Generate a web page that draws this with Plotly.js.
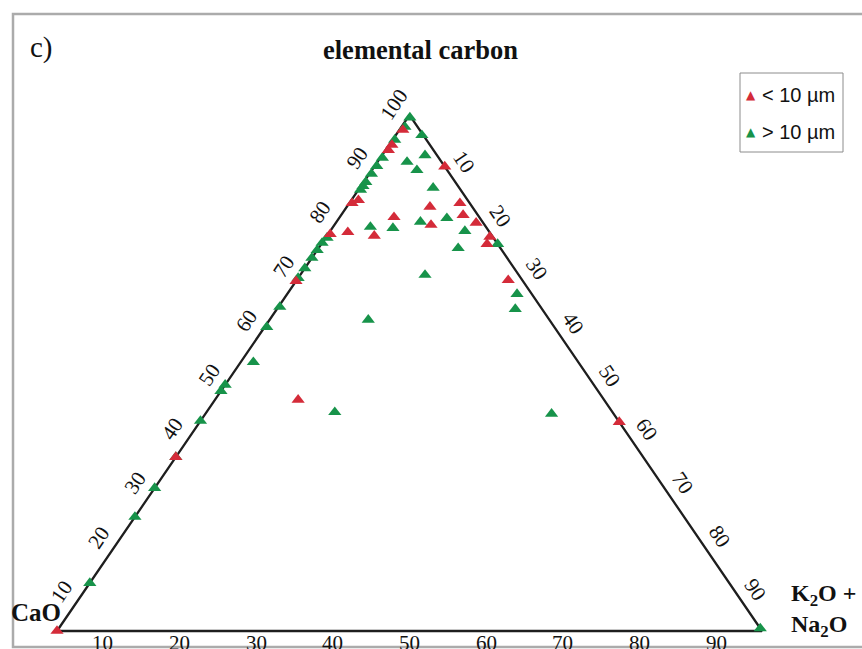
<!DOCTYPE html>
<html>
<head>
<meta charset="utf-8">
<script src="https://cdn.plot.ly/plotly-3.0.1.min.js"></script>
<style>
  html, body { margin: 0; padding: 0; background: #fff; }
  #chart { width: 862px; height: 649px; }
</style>
</head>
<body>
<div id="chart"></div>
<script>
// Particle composition (%): elemental carbon / CaO / K2O + Na2O
// Particles smaller than 10 µm
const fineEC  = [0, 97.1, 94.2, 93.2, 82.9, 83.5, 76.9, 77.3, 76.6, 80.2, 82.2, 78.7, 90.0, 82.9, 80.6, 79.1, 76.4, 75.0, 68.0, 40.5, 44.8, 67.8, 33.7];
const fineCaO = [100, 2.4, 5.4, 6.4, 16.7, 15.5, 22.8, 20.1, 16.7, 12.1, 6.0, 7.6, 0, 1.4, 2.1, 1.0, 0.4, 1.5, 2.0, 0, 43.4, 32.2, 66.3];
const fineAlk = [0, 0.5, 0.4, 0.4, 0.4, 1.0, 0.3, 2.6, 6.7, 7.7, 11.8, 13.7, 10.0, 15.7, 17.3, 19.9, 23.2, 23.5, 30.0, 59.5, 11.8, 0, 0];

// Particles larger than 10 µm
const coarseEC  = [0.5, 9.3, 22.1, 27.7, 33.7, 40.7, 46.5, 47.7, 52.1, 58.9, 62.8, 68.4, 70.3, 72.3, 73.8, 75.2, 76.2, 60.3, 42.4, 42.1, 78.3, 78.1, 79.3, 80.0, 69.0, 77.5, 74.2, 75.0, 65.3, 62.4, 85.9, 89.3, 90.9, 92.2, 96.1, 99.5, 97.7, 85.5, 86.2, 87.0, 88.6, 90.1, 91.7, 95.2];
const coarseCaO = [0, 90.7, 77.9, 72.3, 66.3, 59.3, 53.5, 52.3, 46.1, 40.8, 37.0, 31.6, 29.7, 27.7, 26.2, 24.8, 23.6, 25.7, 39.4, 8.8, 16.4, 13.3, 8.8, 4.7, 13.3, 3.4, 6.0, 0, 2.1, 3.8, 3.7, 4.3, 4.9, 1.7, 0.2, 0.2, 1.8, 14.2, 13.5, 12.7, 11.1, 9.6, 8.0, 4.5];
const coarseAlk = [99.5, 0, 0, 0, 0, 0, 0, 0, 1.8, 0.3, 0.2, 0, 0, 0, 0, 0, 0.2, 14.0, 18.2, 49.1, 5.3, 8.6, 11.9, 15.3, 17.7, 19.1, 19.8, 25.0, 32.6, 33.8, 10.4, 6.4, 4.2, 6.1, 3.7, 0.3, 0.5, 0.3, 0.3, 0.3, 0.3, 0.3, 0.3, 0.3];

const seriesNames = ['< 10 µm', '> 10 µm'];
const seriesColors = ['#d42b39', '#17934a'];

// Tick labels along the three sides
const leftTicks   = [10, 20, 30, 40, 50, 60, 70, 80, 90, 100];
const rightTicks  = [10, 20, 30, 40, 50, 60, 70, 80, 90];
const bottomTicks = [10, 20, 30, 40, 50, 60, 70, 80, 90];

// Ternary -> planar coordinates (CaO bottom-left, K2O+Na2O bottom-right, EC apex)
function tx(ec, cao, alk) { const s = ec + cao + alk; return (alk + ec / 2) / s * 100; }
function ty(ec, cao, alk) { const s = ec + cao + alk; return ec / s * 100; }
function project(ec, cao, alk) {
  return { x: ec.map((e, i) => tx(e, cao[i], alk[i])), y: ec.map((e, i) => ty(e, cao[i], alk[i])) };
}

// Corners of the diagram as compositions: CaO, K2O+Na2O, elemental carbon
const cornerEC  = [0, 0, 100, 0];
const cornerCaO = [100, 0, 0, 100];
const cornerAlk = [0, 100, 0, 0];
const frameXY = project(cornerEC, cornerCaO, cornerAlk);

const fineXY = project(fineEC, fineCaO, fineAlk);
const coarseXY = project(coarseEC, coarseCaO, coarseAlk);

const traces = [
  { type: 'scatter', mode: 'lines', x: frameXY.x, y: frameXY.y,
    line: { color: '#1e1e1e', width: 2.3 }, hoverinfo: 'skip', showlegend: false },
  { type: 'scatter', mode: 'markers', name: seriesNames[1], x: coarseXY.x, y: coarseXY.y,
    marker: { symbol: 'triangle-up', size: 11.5, color: seriesColors[1] }, showlegend: false },
  { type: 'scatter', mode: 'markers', name: seriesNames[0], x: fineXY.x, y: fineXY.y,
    marker: { symbol: 'triangle-up', size: 11.5, color: seriesColors[0] }, showlegend: false }
];

const serif = 'Liberation Serif, Times New Roman, serif';
const tickFont = { family: serif, size: 21, color: '#111' };
const annotations = [];

leftTicks.forEach(v => {
  const e = 50 + (v - 50) * 1.05;
  annotations.push({ xref: 'x', yref: 'y', x: e / 2, y: e, text: String(v), showarrow: false,
    textangle: -56, xshift: -24, yshift: -2, font: tickFont, xanchor: 'center', yanchor: 'middle' });
});
rightTicks.forEach(v => {
  const k = 50 + (v - 50) * 1.035;
  annotations.push({ xref: 'x', yref: 'y', x: 50 + k / 2, y: 100 - k, text: String(v), showarrow: false,
    textangle: 56, xshift: 24, yshift: -3, font: tickFont, xanchor: 'center', yanchor: 'middle' });
});
bottomTicks.forEach(v => {
  annotations.push({ xref: 'x', yref: 'y', x: 50 + (v - 50) * 1.088, y: 0, text: String(v), showarrow: false,
    yshift: -12, font: tickFont, xanchor: 'center', yanchor: 'middle' });
});

annotations.push(
  { xref: 'paper', yref: 'paper', x: 41 / 862, y: 1 - 47 / 649, text: 'c)', showarrow: false,
    font: { family: serif, size: 29, color: '#111' }, xanchor: 'center', yanchor: 'middle' },
  { xref: 'paper', yref: 'paper', x: 420 / 862, y: 1 - 50 / 649, text: '<b>elemental carbon</b>', showarrow: false,
    font: { family: serif, size: 26.5, color: '#111' }, xanchor: 'center', yanchor: 'middle' },
  { xref: 'paper', yref: 'paper', x: 36 / 862, y: 1 - 612 / 649, text: '<b>CaO</b>', showarrow: false,
    font: { family: serif, size: 25, color: '#111' }, xanchor: 'center', yanchor: 'middle' },
  { xref: 'paper', yref: 'paper', x: 789 / 862, y: 1 - 610 / 649, align: 'left',
    text: '<b>K<sub>2</sub>O +</b><br><b>Na<sub>2</sub>O</b>', showarrow: false,
    font: { family: serif, size: 24, color: '#111' }, xanchor: 'left', yanchor: 'middle' }
);

// Legend drawn as a boxed key
const legendRows = [95, 132];
seriesNames.forEach((name, i) => {
  annotations.push(
    { xref: 'paper', yref: 'paper', x: 751 / 862, y: 1 - legendRows[i] / 649, text: '▲', showarrow: false,
      font: { family: 'DejaVu Sans, sans-serif', size: 12, color: seriesColors[i] }, xanchor: 'center', yanchor: 'middle' },
    { xref: 'paper', yref: 'paper', x: 760 / 862, y: 1 - legendRows[i] / 649, text: name, showarrow: false,
      font: { family: 'Liberation Sans, Arial, sans-serif', size: 20, color: '#111' }, xanchor: 'left', yanchor: 'middle' }
  );
});

const shapes = [
  { type: 'rect', xref: 'paper', yref: 'paper', x0: 13 / 862, x1: 1.05, y0: 2 / 649, y1: 1 - 14 / 649,
    line: { color: '#ababab', width: 2.5 }, fillcolor: 'rgba(0,0,0,0)', layer: 'below' },
  { type: 'rect', xref: 'paper', yref: 'paper', x0: 740 / 862, x1: 843 / 862, y0: 1 - 152 / 649, y1: 1 - 73 / 649,
    line: { color: '#8c8c8c', width: 1 }, fillcolor: 'rgba(0,0,0,0)' }
];

const layout = {
  width: 862, height: 649, autosize: false,
  margin: { l: 0, r: 0, t: 0, b: 0 },
  paper_bgcolor: '#ffffff', plot_bgcolor: '#ffffff',
  xaxis: { range: [-8.085, 114.18], visible: false, fixedrange: true },
  yaxis: { range: [-3.49, 122.29], visible: false, fixedrange: true },
  showlegend: false,
  annotations: annotations,
  shapes: shapes
};

Plotly.newPlot('chart', traces, layout, { displayModeBar: false, staticPlot: true });
</script>
</body>
</html>
